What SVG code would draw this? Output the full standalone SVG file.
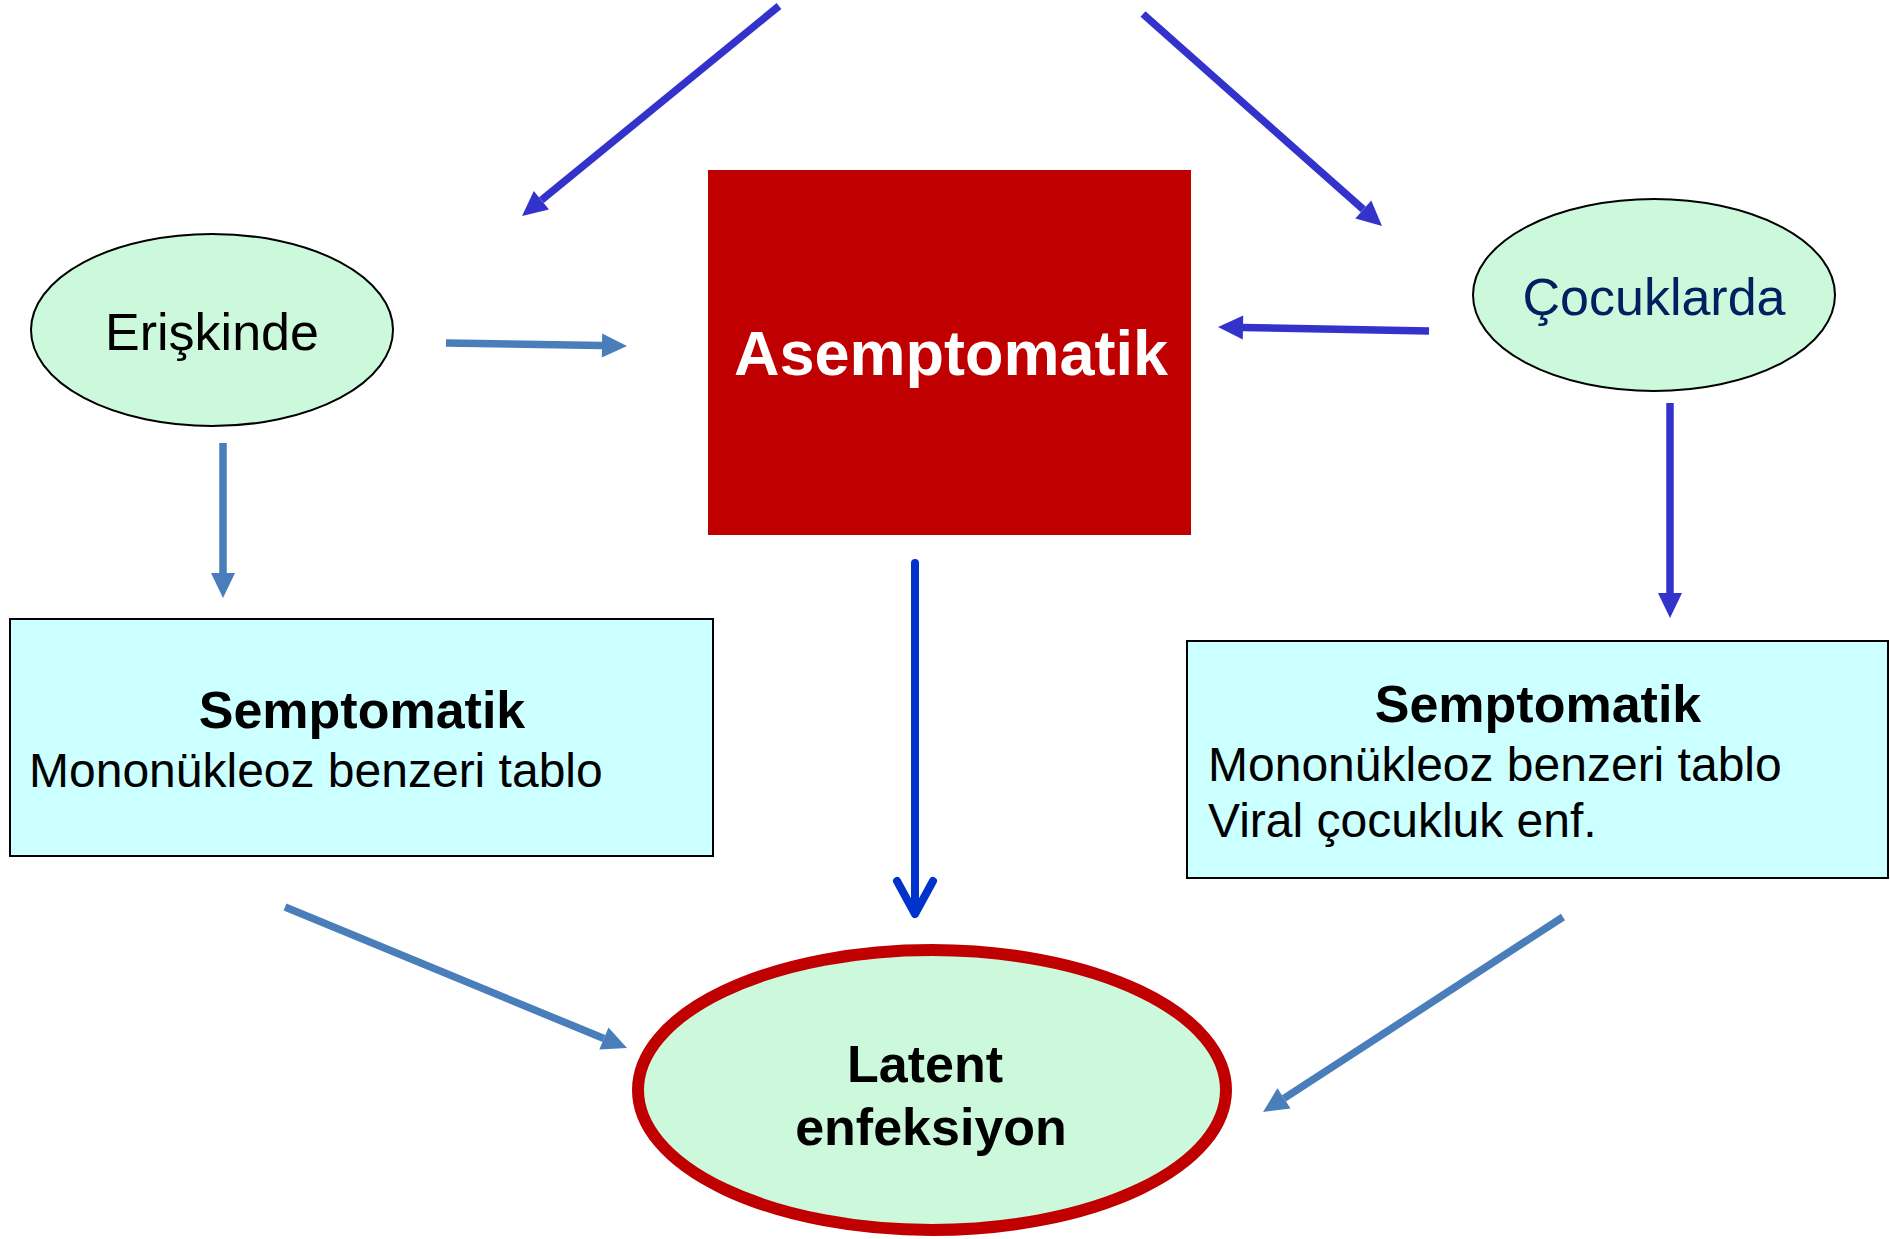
<svg xmlns="http://www.w3.org/2000/svg" width="1890" height="1239" viewBox="0 0 1890 1239">
<style>
text{font-family:"Liberation Sans",Arial,sans-serif}
.b{font-weight:bold}
.c{text-anchor:middle}
.ell{fill:#CCF8DC;stroke:#000;stroke-width:2}
.box{fill:#CCFFFF;stroke:#000;stroke-width:2}
.sb{stroke:#4A7EBB;stroke-width:7.5;fill:none;marker-end:url(#hsb)}
.vb{stroke:#3333CC;stroke-width:7.5;fill:none;marker-end:url(#hvb)}
</style>
<defs>
<marker id="hsb" markerUnits="userSpaceOnUse" markerWidth="26" markerHeight="26" refX="0" refY="12" orient="auto" overflow="visible"><path d="M0,0 L25,12 L0,24 z" fill="#4A7EBB"/></marker>
<marker id="hvb" markerUnits="userSpaceOnUse" markerWidth="26" markerHeight="26" refX="0" refY="12" orient="auto" overflow="visible"><path d="M0,0 L25,12 L0,24 z" fill="#3333CC"/></marker>
</defs>
<rect width="1890" height="1239" fill="#fff"/>
<g id="connectors">
<line class="vb" x1="779" y1="6" x2="541.4" y2="200.2"/>
<line class="vb" x1="1143" y1="14" x2="1363.3" y2="209.4"/>
<line class="sb" x1="446" y1="343" x2="602" y2="345.6"/>
<line class="vb" x1="1429" y1="331" x2="1243" y2="327.5"/>
<line class="sb" x1="223" y1="443" x2="223" y2="573"/>
<line class="vb" x1="1670" y1="403" x2="1670" y2="593"/>
<path d="M915,563 L915,912 M897,881 L915,914 L933,881" stroke="#0033CC" stroke-width="8" fill="none" stroke-linecap="round" stroke-linejoin="round"/>
<line class="sb" x1="285" y1="907" x2="603.9" y2="1038.5"/>
<line class="sb" x1="1563" y1="917" x2="1284" y2="1098.4"/>
</g>
<g id="asemptomatik">
<rect x="708" y="170" width="483" height="365" fill="#C00000"/>
<text class="b c" x="951" y="375" font-size="63" fill="#fff">Asemptomatik</text>
</g>
<g id="eriskinde">
<ellipse class="ell" cx="212" cy="330" rx="181" ry="96"/>
<text class="c" x="212" y="350" font-size="52" fill="#000">Erişkinde</text>
</g>
<g id="cocuklarda">
<ellipse class="ell" cx="1654" cy="295" rx="181" ry="96"/>
<text class="c" x="1654" y="315" font-size="52" fill="#002060">Çocuklarda</text>
</g>
<g id="semptomatik-left">
<rect class="box" x="10" y="619" width="703" height="237"/>
<text class="b c" x="362" y="728" font-size="52">Semptomatik</text>
<text x="29" y="787" font-size="48">Mononükleoz benzeri tablo</text>
</g>
<g id="semptomatik-right">
<rect class="box" x="1187" y="641" width="701" height="237"/>
<text class="b c" x="1538" y="722" font-size="52">Semptomatik</text>
<text x="1208" y="781" font-size="48">Mononükleoz benzeri tablo</text>
<text x="1208" y="837" font-size="48">Viral çocukluk enf.</text>
</g>
<g id="latent">
<ellipse cx="932" cy="1090" rx="294" ry="140" fill="#CCF8DC" stroke="#C00000" stroke-width="12"/>
<text class="b c" x="925" y="1082" font-size="52">Latent</text>
<text class="b c" x="931" y="1145" font-size="52">enfeksiyon</text>
</g>
</svg>
